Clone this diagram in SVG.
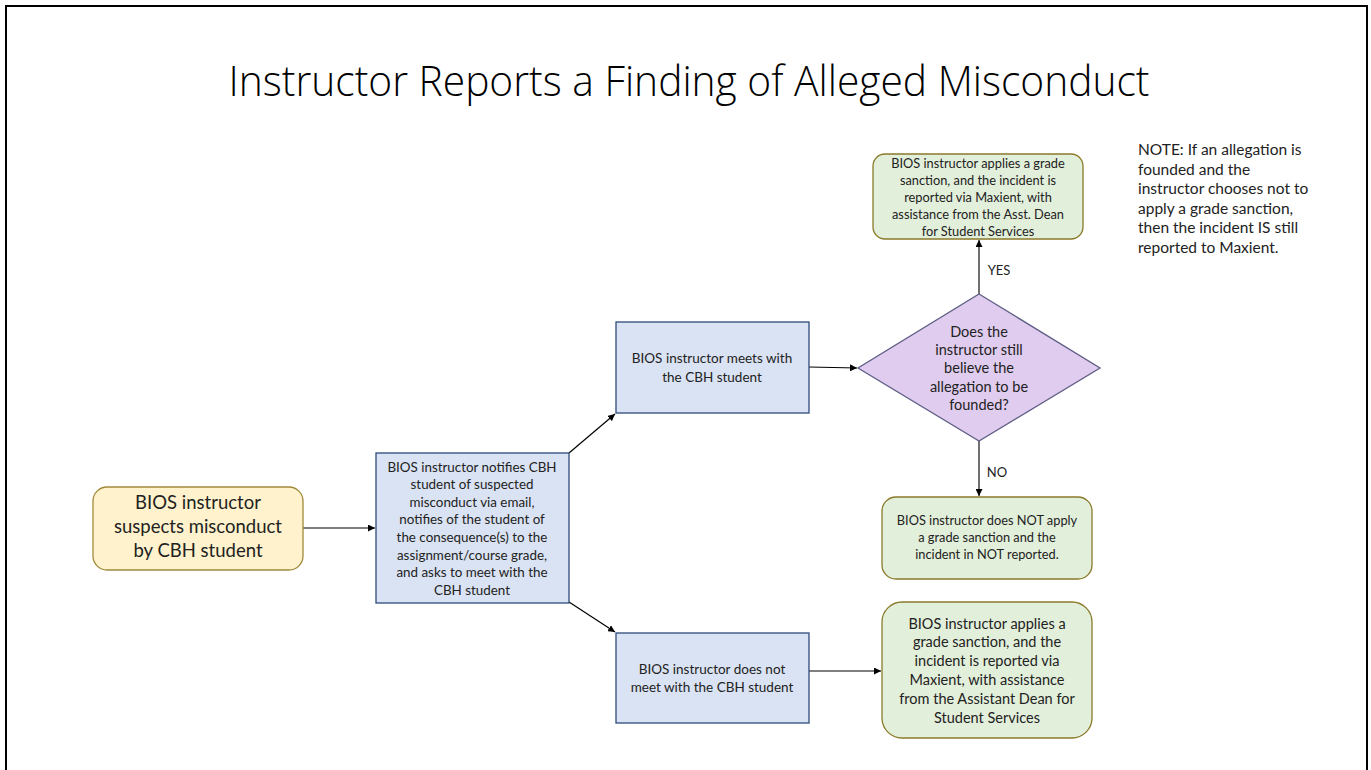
<svg xmlns="http://www.w3.org/2000/svg" width="1371" height="770" viewBox="0 0 1371 770">
<style>
.t{font-family:Lato,"Open Sans","Liberation Sans",sans-serif;fill:#222;text-anchor:middle}
.yel{fill:#FFF2CC;stroke:#A08A3A;stroke-width:1.3}
.blu{fill:#DAE3F3;stroke:#2F4A7A;stroke-width:1.3}
.grn{fill:#E2EFDA;stroke:#8A7A2A;stroke-width:1.3}
.pur{fill:#E0CCEE;stroke:#5E5E86;stroke-width:1.3}
.c{stroke:#000;stroke-width:1.2;fill:none}
.cg{stroke:#404040;stroke-width:1.5;fill:none}
</style>
<defs>
<marker id="ah" viewBox="0 0 10 10" refX="10" refY="5" markerWidth="7" markerHeight="7" markerUnits="userSpaceOnUse" orient="auto"><path d="M0,0L10,5L0,10z" fill="#000"/></marker>
<marker id="ah2" viewBox="0 0 10 10" refX="10" refY="5" markerWidth="7" markerHeight="7" markerUnits="userSpaceOnUse" orient="auto"><path d="M0,0L10,5L0,10z" fill="#000"/></marker>
</defs>
<rect width="1371" height="770" fill="#fff"/>
<path d="M6,775V6H1367V775" fill="none" stroke="#000" stroke-width="2"/>
<text x="689" y="96" font-family="'Open Sans',Lato,sans-serif" font-weight="300" font-size="42" text-anchor="middle" fill="#000" textLength="921" lengthAdjust="spacingAndGlyphs">Instructor Reports a Finding of Alleged Misconduct</text>

<g id="connectors">
<line class="c" x1="303" y1="528" x2="375" y2="528" marker-end="url(#ah)"/>
<line class="c" x1="569" y1="453" x2="615" y2="414" marker-end="url(#ah)"/>
<line class="c" x1="569" y1="602" x2="615" y2="632" marker-end="url(#ah)"/>
<line class="c" x1="809" y1="367" x2="857" y2="368" marker-end="url(#ah)"/>
<line class="c" x1="809" y1="671" x2="881" y2="671" marker-end="url(#ah)"/>
<line class="cg" x1="979" y1="294" x2="979" y2="240" marker-end="url(#ah2)"/>
<line class="cg" x1="979" y1="441" x2="979" y2="496" marker-end="url(#ah2)"/>
<text class="t" x="999" y="275" font-size="13">YES</text>
<text class="t" x="997" y="477" font-size="13">NO</text>
</g>

<g id="start">
<rect class="yel" x="93" y="487" width="210" height="83" rx="14"/>
<text class="t" font-size="18.5"><tspan x="198" y="509">BIOS instructor</tspan><tspan x="198" y="533">suspects misconduct</tspan><tspan x="198" y="557">by CBH student</tspan></text>
</g>

<g id="notify">
<rect class="blu" x="376" y="453" width="193" height="150"/>
<text class="t" font-size="13.4"><tspan x="472" y="472">BIOS instructor notifies CBH</tspan><tspan x="472" y="489">student of suspected</tspan><tspan x="472" y="507">misconduct via email,</tspan><tspan x="472" y="524">notifies of the student of</tspan><tspan x="472" y="542">the consequence(s)  to the</tspan><tspan x="472" y="560">assignment/course grade,</tspan><tspan x="472" y="577">and asks to meet with the</tspan><tspan x="472" y="595">CBH student</tspan></text>
</g>

<g id="meets">
<rect class="blu" x="616" y="322" width="193" height="91"/>
<text class="t" font-size="13.5"><tspan x="712" y="363">BIOS instructor meets with</tspan><tspan x="712" y="382">the CBH student</tspan></text>
</g>

<g id="notmeet">
<rect class="blu" x="616" y="633" width="193" height="90"/>
<text class="t" font-size="13.5"><tspan x="712" y="674">BIOS instructor does not</tspan><tspan x="712" y="692">meet with the CBH student</tspan></text>
</g>

<g id="decision">
<polygon class="pur" points="979,294 1100,368 979,441 858,368"/>
<text class="t" font-size="14.5"><tspan x="979" y="337">Does the</tspan><tspan x="979" y="355">instructor still</tspan><tspan x="979" y="373">believe the</tspan><tspan x="979" y="392">allegation to be</tspan><tspan x="979" y="410">founded?</tspan></text>
</g>

<g id="yes-result">
<rect class="grn" x="873" y="154" width="210" height="85" rx="12"/>
<text class="t" font-size="12.8"><tspan x="978" y="168">BIOS instructor applies a grade</tspan><tspan x="978" y="185">sanction, and the incident is</tspan><tspan x="978" y="202">reported via Maxient, with</tspan><tspan x="978" y="219">assistance from the Asst. Dean</tspan><tspan x="978" y="236">for Student Services</tspan></text>
</g>

<g id="no-result">
<rect class="grn" x="882" y="497" width="210" height="82" rx="14"/>
<text class="t" font-size="12.8"><tspan x="987" y="525">BIOS instructor does NOT apply</tspan><tspan x="987" y="542">a grade sanction and the</tspan><tspan x="987" y="559">incident in NOT reported.</tspan></text>
</g>

<g id="notmeet-result">
<rect class="grn" x="882" y="602" width="210" height="136" rx="20"/>
<text class="t" font-size="14.5"><tspan x="987" y="629">BIOS instructor applies a</tspan><tspan x="987" y="647">grade sanction, and the</tspan><tspan x="987" y="666">incident is reported via</tspan><tspan x="987" y="685">Maxient, with assistance</tspan><tspan x="987" y="704">from the Assistant Dean for</tspan><tspan x="987" y="723">Student Services</tspan></text>
</g>

<g id="note">
<text font-family="Lato,'Open Sans',sans-serif" font-size="15.5" fill="#222"><tspan x="1138" y="155">NOTE: If an allegation is</tspan><tspan x="1138" y="175">founded and the</tspan><tspan x="1138" y="194">instructor chooses not to</tspan><tspan x="1138" y="214">apply a grade sanction,</tspan><tspan x="1138" y="233">then the incident IS still</tspan><tspan x="1138" y="253">reported to Maxient.</tspan></text>
</g>
</svg>
